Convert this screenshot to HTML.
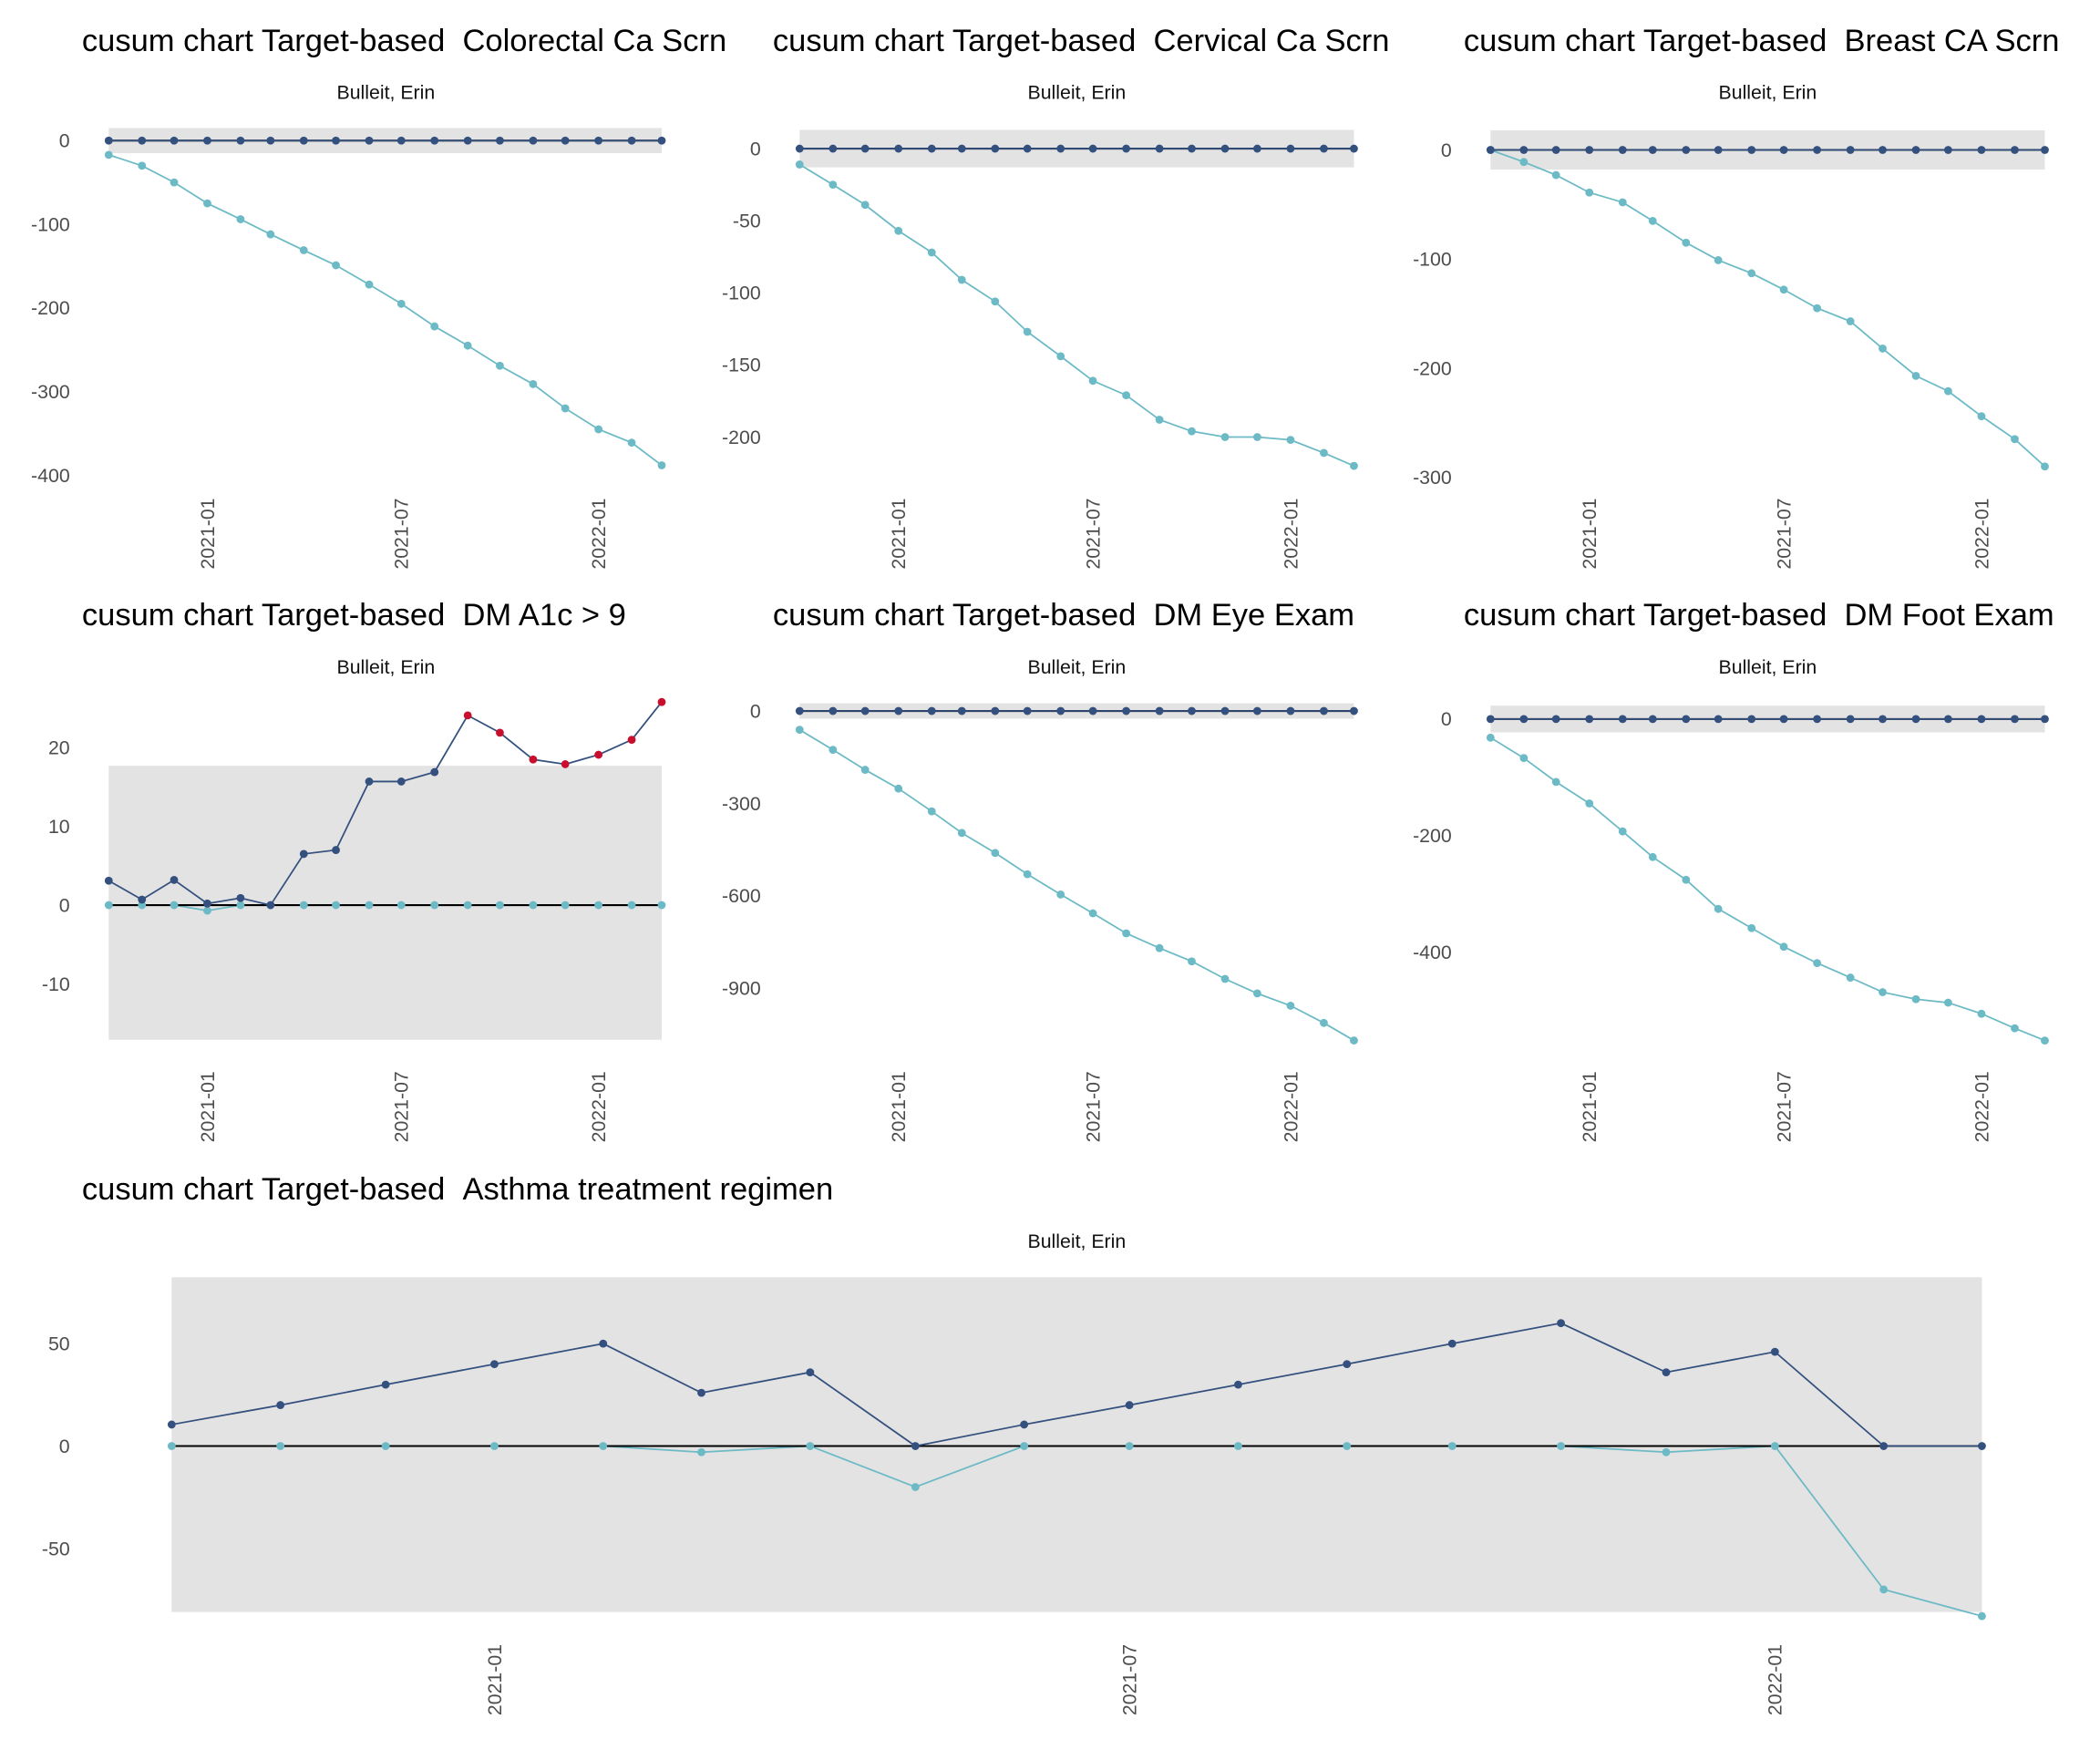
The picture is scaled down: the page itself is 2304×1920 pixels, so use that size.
<!DOCTYPE html>
<html><head><meta charset="utf-8">
<style>
html,body{margin:0;padding:0;background:#fff;}
svg{display:block;font-family:"Liberation Sans",Arial,sans-serif;}
</style></head>
<body>
<svg id="chart" width="2304" height="1920" viewBox="0 0 1568 1307" xmlns="http://www.w3.org/2000/svg"></svg>
<script>
const dates = ["2020-10-01","2020-11-01","2020-12-01","2021-01-01","2021-02-01","2021-03-01","2021-04-01","2021-05-01","2021-06-01","2021-07-01","2021-08-01","2021-09-01","2021-10-01","2021-11-01","2021-12-01","2022-01-01","2022-02-01","2022-03-01"];
const tickLabels = ["2021-01","2021-07","2022-01"];
const titles = ["Colorectal Ca Scrn","Cervical Ca Scrn","Breast CA Scrn","DM A1c > 9","DM Eye Exam","DM Foot Exam","Asthma treatment regimen"];
const upperColorectal = [0,0,0,0,0,0,0,0,0,0,0,0,0,0,0,0,0,0];
const lowerColorectal = [-17,-30,-50,-75,-94,-112,-131,-149,-172,-195,-222,-245,-269,-291,-320,-345,-361,-388];
const upperCervical = [0,0,0,0,0,0,0,0,0,0,0,0,0,0,0,0,0,0];
const lowerCervical = [-11,-25,-39,-57,-72,-91,-106,-127,-144,-161,-171,-188,-196,-200,-200,-202,-211,-220];
const upperBreast = [0,0,0,0,0,0,0,0,0,0,0,0,0,0,0,0,0,0];
const lowerBreast = [0,-11,-23,-39,-48,-65,-85,-101,-113,-128,-145,-157,-182,-207,-221,-244,-265,-290];
const upperA1c = [3.1,0.7,3.2,0.2,0.9,0,6.5,7,15.7,15.7,16.9,24.1,21.9,18.5,17.9,19.1,21,25.8];
const lowerA1c = [0,0,0,-0.7,0,0,0,0,0,0,0,0,0,0,0,0,0,0];
const upperEye = [0,0,0,0,0,0,0,0,0,0,0,0,0,0,0,0,0,0];
const lowerEye = [-61,-126,-191,-252,-326,-396,-461,-530,-596,-657,-722,-770,-813,-870,-917,-957,-1013,-1070];
const upperFoot = [0,0,0,0,0,0,0,0,0,0,0,0,0,0,0,0,0,0];
const lowerFoot = [-32,-67,-108,-145,-193,-237,-276,-326,-359,-391,-419,-444,-469,-481,-487,-506,-531,-552];
const upperAsthma = [10.5,20,30,40,50,26,36,0,10.5,20,30,40,50,60,36,46,0,0];
const lowerAsthma = [0,0,0,0,0,-3,0,-20,0,0,0,0,0,0,-3,0,-70,-83];
const yTicksColorectal = [0,-100,-200,-300,-400];
const yTicksCervical = [0,-50,-100,-150,-200];
const yTicksBreast = [0,-100,-200,-300];
const yTicksA1c = [20,10,0,-10];
const yTicksEye = [0,-300,-600,-900];
const yTicksFoot = [0,-200,-400];
const yTicksAsthma = [50,0,-50];
const limitsColorectal = [15,-15];
const limitsCervical = [13,-13];
const limitsBreast = [18,-18];
const limitsA1c = [17.7,-17.1];
const limitsEye = [25,-25];
const limitsFoot = [23,-23];
const limitsAsthma = [82.4,-81];

const NS="http://www.w3.org/2000/svg";
const svg=document.getElementById('chart');
function mk(tag,attrs,parent){const e=document.createElementNS(NS,tag);for(const k in attrs)e.setAttribute(k,attrs[k]);(parent||svg).appendChild(e);return e;}
const day=d=>Date.parse(d)/86400000;

const panels=[
 {name:'colorectal',tx:61,cx:288,ty:30,sy:69,x0:81,x1:494,y0v:0,y0p:105,ppu:0.625,up:upperColorectal,lo:lowerColorectal,ticks:yTicksColorectal,lim:limitsColorectal,labelY:372,tickRight:52},
 {name:'cervical',tx:577,cx:804,ty:30,sy:69,x0:597,x1:1011,y0v:0,y0p:111,ppu:1.077,up:upperCervical,lo:lowerCervical,ticks:yTicksCervical,lim:limitsCervical,labelY:372,tickRight:568},
 {name:'breast',tx:1093,cx:1320,ty:30,sy:69,x0:1113,x1:1527,y0v:0,y0p:112,ppu:0.815,up:upperBreast,lo:lowerBreast,ticks:yTicksBreast,lim:limitsBreast,labelY:372,tickRight:1084},
 {name:'a1c',tx:61,cx:288,ty:459,sy:498,x0:81,x1:494,y0v:0,y0p:676,ppu:5.88,up:upperA1c,lo:lowerA1c,ticks:yTicksA1c,lim:limitsA1c,labelY:800,tickRight:52},
 {name:'eye',tx:577,cx:804,ty:459,sy:498,x0:597,x1:1011,y0v:0,y0p:531,ppu:0.23,up:upperEye,lo:lowerEye,ticks:yTicksEye,lim:limitsEye,labelY:800,tickRight:568},
 {name:'foot',tx:1093,cx:1320,ty:459,sy:498,x0:1113,x1:1527,y0v:0,y0p:537,ppu:0.435,up:upperFoot,lo:lowerFoot,ticks:yTicksFoot,lim:limitsFoot,labelY:800,tickRight:1084},
 {name:'asthma',tx:61,cx:804,ty:888,sy:927,x0:128,x1:1480,y0v:0,y0p:1080,ppu:1.53,up:upperAsthma,lo:lowerAsthma,ticks:yTicksAsthma,lim:limitsAsthma,labelY:1228,tickRight:52}
];

panels.forEach((p,pi)=>{
  const g=mk('g',{});
  
  
  const d0=day(dates[0]),d1=day(dates[dates.length-1]);
  const X=d=>p.x0+(day(d)-d0)/(d1-d0)*(p.x1-p.x0);
  const Y=v=>p.y0p-(v-p.y0v)*p.ppu;
  const t=mk('text',{x:p.tx,y:p.ty+8,'font-size':23.5,fill:'#000'},g);
  t.textContent='cusum chart Target-based\u00A0\u00A0'+titles[pi];
  
  
  const s=mk('text',{x:p.cx,y:p.sy+5,'font-size':14.5,fill:'#111','text-anchor':'middle'},g);
  s.textContent='Bulleit, Erin';
  
  
  const band=mk('rect',{x:p.x0,y:Y(p.lim[0]),width:p.x1-p.x0,height:Y(p.lim[1])-Y(p.lim[0]),fill:'#e3e3e3'},g);
  
  
  p.ticks.forEach(v=>{
    const tl=mk('text',{x:p.tickRight,y:Y(v)+5,'font-size':14.5,fill:'#4d4d4d','text-anchor':'end'},g);
    tl.textContent=String(v);
    
    
  });
  tickLabels.forEach(lbl=>{
    const x=X(lbl+'-01');
    const tl=mk('text',{x:0,y:0,'font-size':14.5,fill:'#4d4d4d','text-anchor':'end',transform:`translate(${x+5},${p.labelY}) rotate(-90)`},g);
    tl.textContent=lbl;
    
    
  });
  const lowPts=p.lo.map((v,i)=>X(dates[i])+','+Y(v)).join(' ');
  const ll=mk('polyline',{points:lowPts,fill:'none',stroke:'#6cbac5','stroke-width':1.2},g);
  
  
  const zl=mk('line',{x1:p.x0,x2:p.x1,y1:Y(0),y2:Y(0),stroke:'#000','stroke-width':1.4},g);
  
  
  const upPts=p.up.map((v,i)=>X(dates[i])+','+Y(v)).join(' ');
  const ul=mk('polyline',{points:upPts,fill:'none',stroke:'#34507e','stroke-width':1.2},g);
  
  
  p.lo.forEach((v,i)=>{
    const c=mk('circle',{cx:X(dates[i]),cy:Y(v),r:3,fill:'#6cbac5'},g);
    
    
  });
  p.up.forEach((v,i)=>{
    const out=v>p.lim[0]||v<p.lim[1];
    const c=mk('circle',{cx:X(dates[i]),cy:Y(v),r:3,fill:out?'#c8102e':'#34507e'},g);
    
    
  });
});
</script>
</body></html>
